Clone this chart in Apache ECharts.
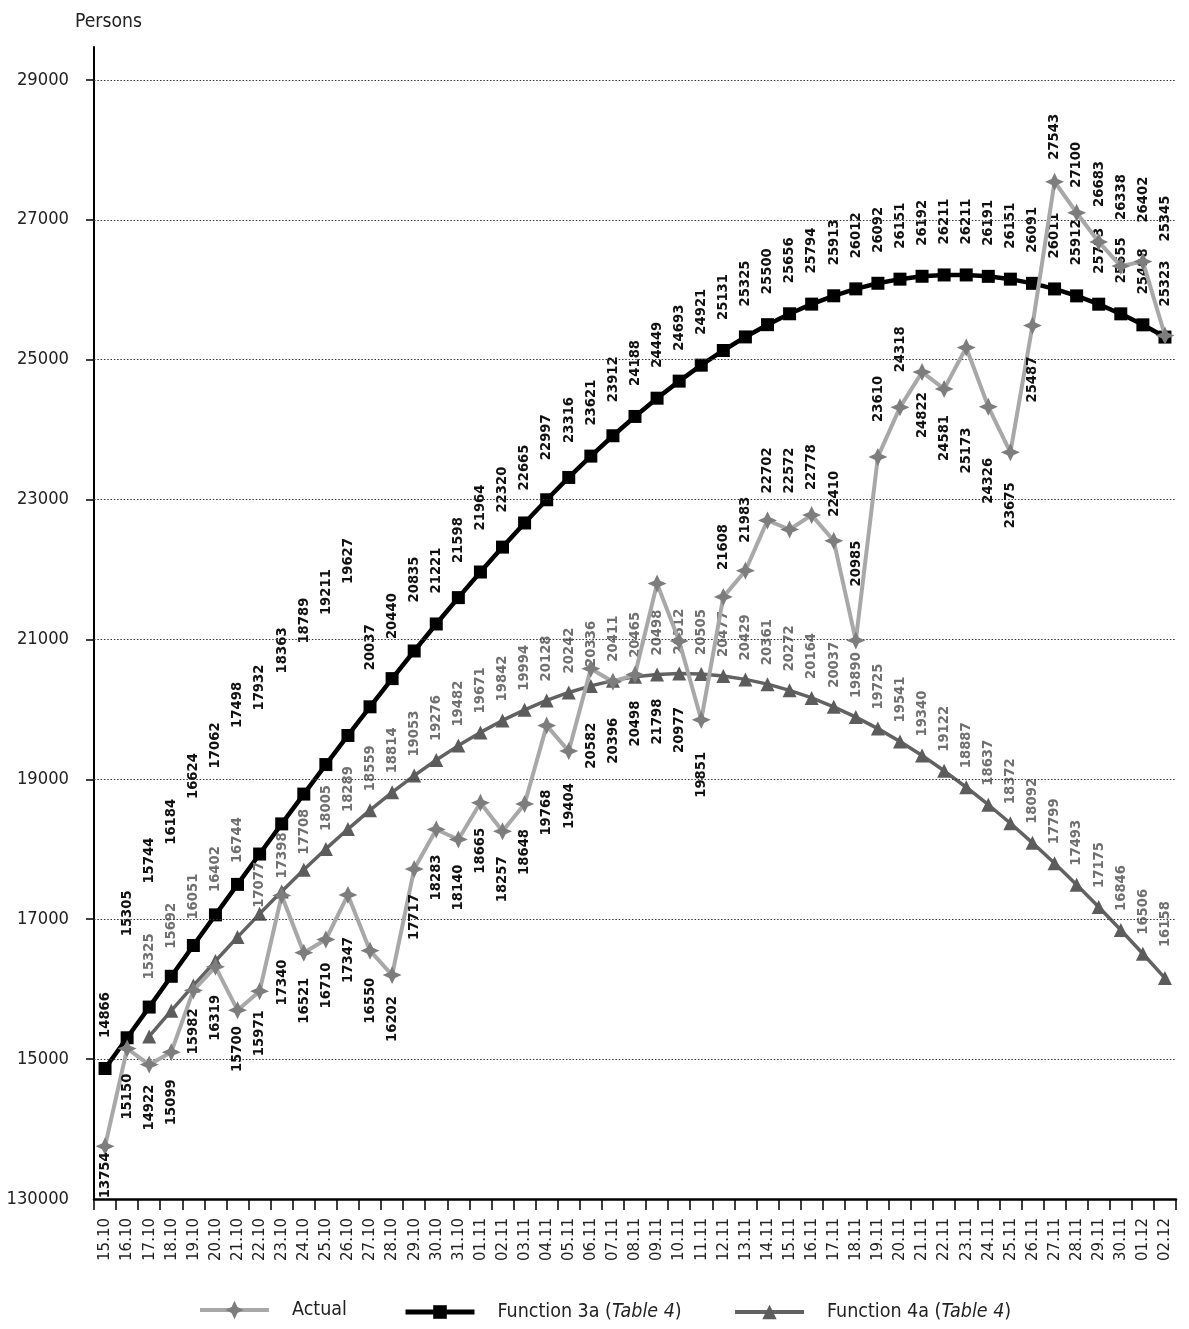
<!DOCTYPE html>
<html>
<head>
<meta charset="utf-8">
<script src="https://cdn.jsdelivr.net/npm/echarts@6/dist/echarts.min.js"></script>
<style>
  html, body { margin: 0; padding: 0; background: #fff; }
  #chart { width: 1189px; height: 1329px; }
</style>
</head>
<body>
<div id="chart"></div>
<script>
// Daily dates, 15 Oct – 2 Dec
const dates = [
  '15.10','16.10','17.10','18.10','19.10','20.10','21.10','22.10','23.10','24.10',
  '25.10','26.10','27.10','28.10','29.10','30.10','31.10','01.11','02.11','03.11',
  '04.11','05.11','06.11','07.11','08.11','09.11','10.11','11.11','12.11','13.11',
  '14.11','15.11','16.11','17.11','18.11','19.11','20.11','21.11','22.11','23.11',
  '24.11','25.11','26.11','27.11','28.11','29.11','30.11','01.12','02.12'
];

// Observed number of persons
const actual = [
  13754, 15150, 14922, 15099, 15982, 16319, 15700, 15971, 17340, 16521,
  16710, 17347, 16550, 16202, 17717, 18283, 18140, 18665, 18257, 18648,
  19768, 19404, 20582, 20396, 20498, 21798, 20977, 19851, 21608, 21983,
  22702, 22572, 22778, 22410, 20985, 23610, 24318, 24822, 24581, 25173,
  24326, 23675, 25487, 27543, 27100, 26683, 26338, 26402, 25345
];

// Function 3a (Table 4)
const fn3a = [
  14866, 15305, 15744, 16184, 16624, 17062, 17498, 17932, 18363, 18789,
  19211, 19627, 20037, 20440, 20835, 21221, 21598, 21964, 22320, 22665,
  22997, 23316, 23621, 23912, 24188, 24449, 24693, 24921, 25131, 25325,
  25500, 25656, 25794, 25913, 26012, 26092, 26151, 26192, 26211, 26211,
  26191, 26151, 26091, 26011, 25912, 25793, 25655, 25498, 25323
];

// Function 4a (Table 4), starts on 17.10
const fn4a = [
  null, null, 15325, 15692, 16051, 16402, 16744, 17077, 17398, 17708,
  18005, 18289, 18559, 18814, 19053, 19276, 19482, 19671, 19842, 19994,
  20128, 20242, 20336, 20411, 20465, 20498, 20512, 20505, 20477, 20429,
  20361, 20272, 20164, 20037, 19890, 19725, 19541, 19340, 19122, 18887,
  18637, 18372, 18092, 17799, 17493, 17175, 16846, 16506, 16158
];

// Y axis ticks and their printed labels
const yTicks = [13000, 15000, 17000, 19000, 21000, 23000, 25000, 27000, 29000];
const yTickLabels = ['130000', '15000', '17000', '19000', '21000', '23000', '25000', '27000', '29000'];
const gridValues = [15000, 17000, 19000, 21000, 23000, 25000, 27000, 29000];

// ---- label layout (side of the point and gap in px from the point centre) ----
const actualSide =
  'bbbbbbbbbbbbbbbbbbbbbbbbbbbb' +  // 15.10 – 11.11
  'ttttttttt' +                     // 12.11 – 20.11
  'bbbbbb' +                        // 21.11 – 26.11
  'tttttt';                         // 27.11 – 02.12
const actualGap = [
  6, 25, 20, 27, 18, 28, 16, 19, 64, 25, 23, 42, 27, 21,
  25, 25, 25, 25, 25, 25,
  64, 32, 54, 36, 26, 115, 66, 32,
  27, 28, 27, 36, 25, 24, 54, 35, 35,
  20, 26, 80, 51, 30, 31,
  22, 25, 35, 46, 39, 94
];
const fn3aGapDefault = 31;
const fn3aGapOverride = {
  1: 102, 2: 124, 3: 132, 4: 147, 5: 147, 6: 157, 7: 144, 8: 151, 9: 151, 10: 150, 11: 152,
  12: 37, 13: 40, 14: 49, 16: 35, 17: 42, 18: 35, 19: 33, 20: 40, 21: 35, 23: 34
};
const fn4aGapDefault = 15;
const fn4aGapOverride = { 2: 53, 3: 58, 4: 62, 5: 65, 6: 70, 7: 2, 8: 9, 9: 11, 10: 14, 11: 13, 48: 27 };

// ---- fonts: pick the narrowest installed sans face, size text by its width ----
const measureCtx = document.createElement('canvas').getContext('2d');
function hasFont(name) {
  const s = 'mmmmmmmmmmlli1234567890WQ';
  for (const base of ['monospace', 'serif']) {
    measureCtx.font = '72px ' + base;
    const a = measureCtx.measureText(s).width;
    measureCtx.font = "72px '" + name + "', " + base;
    if (measureCtx.measureText(s).width !== a) return true;
  }
  return false;
}
const FACE = ['Liberation Sans Narrow', 'Arial Narrow', 'Noto Sans Condensed',
  'Noto Sans SemiCondensed', 'DejaVu Sans Condensed', 'Liberation Sans'].find(hasFont) || 'sans-serif';
const FAMILY = "'" + FACE + "', sans-serif";
function sizeFor(text, width, weight) {
  measureCtx.font = (weight || 'normal') + ' 100px ' + FAMILY;
  return Math.round(width * 1000 / measureCtx.measureText(text).width) / 10;
}
const fsPoint = sizeFor('13754', 46, 'bold');
const fsYAxis = sizeFor('29000', 52);
const fsXAxis = sizeFor('15.10', 43);
const fsLegend = sizeFor('Actual', 55);
const fsTitle = sizeFor('Persons', 67);

const STAR = 'path://M10,0 L13.2,6.8 L20,10 L13.2,13.2 L10,20 L6.8,13.2 L0,10 L6.8,6.8 Z';

function pointLabel(above, gap, half, color, dx) {
  return {
    show: true,
    position: above ? 'top' : 'bottom',
    distance: gap - half,
    rotate: 90,
    align: above ? 'left' : 'right',
    verticalAlign: 'middle',
    offset: [dx || 0, 0],
    color: color,
    fontFamily: FAMILY,
    fontWeight: 'bold',
    fontSize: fsPoint
  };
}

const actualData = actual.map((v, i) => ({
  value: v,
  label: pointLabel(actualSide[i] === 't', actualGap[i], 9, '#111')
}));
const fn3aData = fn3a.map((v, i) => ({
  value: v,
  label: pointLabel(true, fn3aGapOverride[i] !== undefined ? fn3aGapOverride[i] : fn3aGapDefault, 7, '#111')
}));
const fn4aData = fn4a.map((v, i) => v == null ? '-' : ({
  value: v,
  label: pointLabel(true, fn4aGapOverride[i] !== undefined ? fn4aGapOverride[i] : fn4aGapDefault, 7, '#707070', 4)
}));

const legendText = { fontFamily: FAMILY, fontSize: fsLegend, color: '#222', padding: [0, 0, 0, 18],
  rich: { i: { fontFamily: FAMILY, fontSize: fsLegend, fontStyle: 'italic', color: '#222' } } };
const legendFmt = name => name.replace(/\((.*)\)/, '({i|$1})');

const chart = echarts.init(document.getElementById('chart'), null, { renderer: 'canvas' });
chart.setOption({
  animation: false,
  backgroundColor: '#fff',
  title: {
    text: 'Persons', left: 70, top: 8,
    textStyle: { fontFamily: FAMILY, fontSize: fsTitle, fontWeight: 'normal', color: '#222' }
  },
  legend: [
    { data: ['Actual'], left: 198, top: 1300, padding: 0, itemWidth: 69, itemHeight: 23,
      lineStyle: { width: 4 }, textStyle: legendText, formatter: legendFmt },
    { data: ['Function 3a (Table 4)'], left: 403, top: 1302, padding: 0, itemWidth: 69, itemHeight: 17,
      lineStyle: { width: 5 }, textStyle: legendText, formatter: legendFmt },
    { data: ['Function 4a (Table 4)'], left: 733, top: 1302, padding: 0, itemWidth: 69, itemHeight: 18,
      lineStyle: { width: 4 }, textStyle: legendText, formatter: legendFmt }
  ],
  grid: { left: 94, top: 47, width: 1082, bottom: 130, containLabel: false, outerBoundsMode: 'none' },
  xAxis: {
    type: 'category',
    data: dates,
    boundaryGap: true,
    axisLine: { lineStyle: { color: '#000', width: 2.5 } },
    axisTick: { show: true, length: 11, lineStyle: { color: '#000', width: 1.5 } },
    axisLabel: { interval: 0, rotate: 90, margin: 19, fontFamily: FAMILY, fontSize: fsXAxis,
      color: '#222', hideOverlap: false },
    splitLine: { show: false }
  },
  yAxis: {
    type: 'value',
    min: 13000,
    max: 29470,
    axisLine: { show: true, lineStyle: { color: '#000', width: 2 } },
    axisTick: { show: true, length: 8, customValues: gridValues, lineStyle: { color: '#000', width: 1.5 } },
    axisLabel: {
      customValues: yTicks,
      formatter: v => yTickLabels[yTicks.indexOf(v)],
      margin: 25, fontFamily: FAMILY, fontSize: fsYAxis, color: '#222'
    },
    splitLine: { show: false }
  },
  series: [
    {
      // dotted horizontal reference lines
      type: 'line', data: [], z: 1, silent: true,
      markLine: {
        silent: true, symbol: ['none', 'none'], label: { show: false },
        lineStyle: { color: '#333', width: 1.2, type: [1.5, 1.8] },
        emphasis: { disabled: true },
        data: gridValues.map(v => ({ yAxis: v }))
      }
    },
    {
      name: 'Function 3a (Table 4)',
      type: 'line', z: 3,
      data: fn3aData,
      symbol: 'rect', symbolSize: 13,
      lineStyle: { color: '#000', width: 4.5 },
      itemStyle: { color: '#000' },
      emphasis: { disabled: true }
    },
    {
      name: 'Function 4a (Table 4)',
      type: 'line', z: 4,
      data: fn4aData,
      symbol: 'triangle', symbolSize: 14,
      lineStyle: { color: '#626262', width: 3.5 },
      itemStyle: { color: '#5c5c5c' },
      emphasis: { disabled: true }
    },
    {
      name: 'Actual',
      type: 'line', z: 5,
      data: actualData,
      symbol: STAR, symbolSize: [19, 18],
      lineStyle: { color: '#a8a8a8', width: 4 },
      itemStyle: { color: '#7d7d7d' },
      emphasis: { disabled: true }
    }
  ]
});
</script>
</body>
</html>
